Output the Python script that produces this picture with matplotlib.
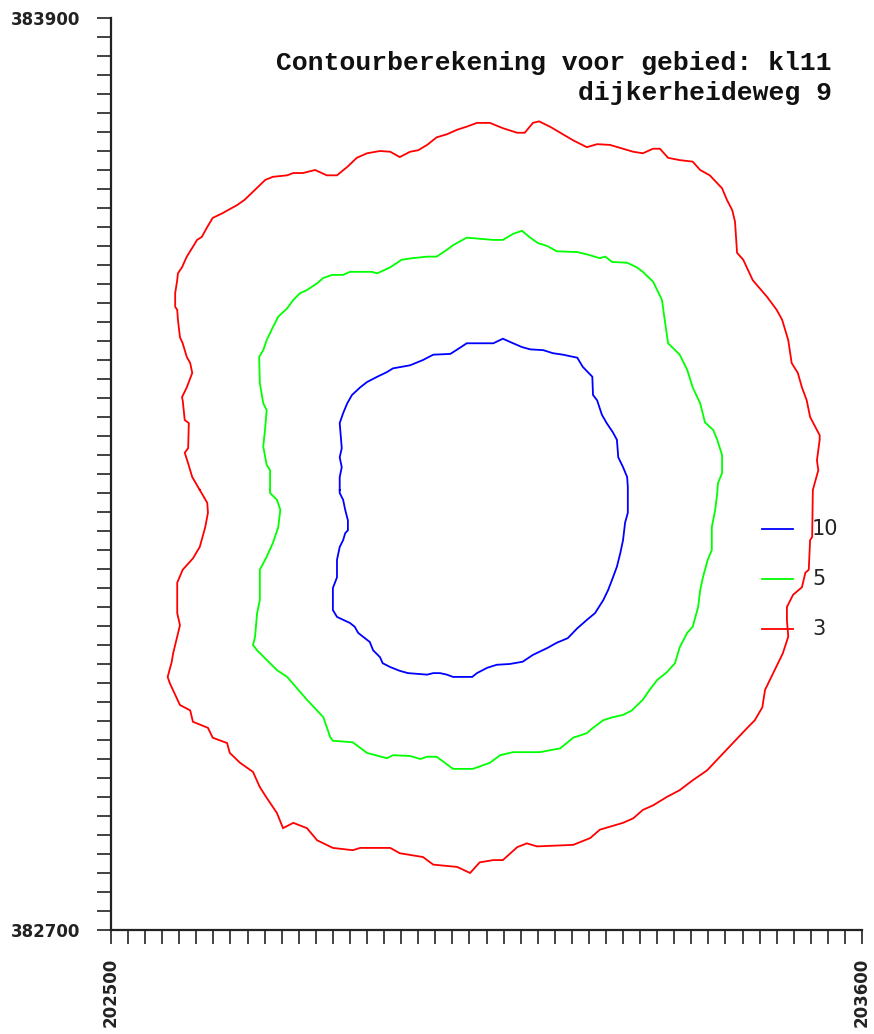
import matplotlib
matplotlib.use('Agg')
import matplotlib.pyplot as plt
import numpy as np

# Contour rings (easting, northing) in metres, one list per level
contour_3 = [
    (202630, 383279), (202619, 383296), (202613, 383314), (202608, 383328), (202613, 383334),
    (202614, 383367), (202608, 383371), (202605, 383397), (202604, 383401), (202611, 383414),
    (202619, 383433), (202616, 383446), (202611, 383454), (202605, 383472), (202601, 383480),
    (202598, 383503), (202597, 383516), (202594, 383520), (202594, 383538), (202597, 383555),
    (202598, 383564), (202604, 383572), (202611, 383586), (202620, 383599), (202626, 383608),
    (202633, 383612), (202641, 383625), (202649, 383637), (202663, 383643), (202671, 383647),
    (202685, 383654), (202696, 383661), (202711, 383674), (202726, 383687), (202737, 383691),
    (202758, 383693), (202767, 383696), (202781, 383696), (202799, 383700), (202816, 383693),
    (202831, 383693), (202846, 383704), (202860, 383716), (202875, 383722), (202894, 383725),
    (202909, 383724), (202923, 383717), (202938, 383724), (202950, 383726), (202963, 383733),
    (202977, 383743), (202992, 383747), (203007, 383753), (203021, 383757), (203036, 383762),
    (203055, 383762), (203074, 383755), (203095, 383749), (203106, 383749), (203118, 383762),
    (203127, 383764), (203143, 383757), (203158, 383749), (203177, 383739), (203197, 383730),
    (203212, 383734), (203231, 383733), (203246, 383729), (203265, 383724), (203279, 383722),
    (203294, 383728), (203304, 383728), (203316, 383716), (203333, 383713), (203352, 383711),
    (203363, 383700), (203377, 383693), (203395, 383676), (203402, 383661), (203410, 383647),
    (203414, 383632), (203417, 383591), (203426, 383582), (203440, 383555), (203461, 383533),
    (203475, 383516), (203483, 383503), (203492, 383476), (203497, 383446), (203506, 383433),
    (203512, 383414), (203519, 383397), (203524, 383375), (203538, 383351), (203538, 383345),
    (203534, 383318), (203536, 383305), (203528, 383279), (203527, 383217), (203524, 383213),
    (203522, 383174), (203517, 383170), (203512, 383151), (203499, 383141), (203490, 383125),
    (203490, 383108), (203492, 383086), (203484, 383064), (203470, 383038), (203458, 383016),
    (203454, 382993), (203443, 382976), (203432, 382966), (203411, 382946), (203392, 382928),
    (203373, 382910), (203352, 382897), (203333, 382884), (203314, 382875), (203294, 382864),
    (203279, 382858), (203265, 382847), (203250, 382841), (203231, 382836), (203216, 382832),
    (203202, 382821), (203177, 382812), (203124, 382810), (203109, 382814), (203095, 382809),
    (203074, 382792), (203060, 382792), (203040, 382789), (203026, 382775), (203007, 382783),
    (202972, 382786), (202957, 382796), (202923, 382801), (202909, 382808), (202865, 382808),
    (202854, 382805), (202825, 382808), (202802, 382818), (202787, 382834), (202767, 382841),
    (202752, 382834), (202743, 382854), (202728, 382874), (202718, 382888), (202708, 382908),
    (202689, 382920), (202674, 382933), (202670, 382946), (202649, 382953), (202642, 382966),
    (202620, 382974), (202616, 382989), (202601, 382996), (202586, 383025), (202583, 383033),
    (202589, 383053), (202591, 383064), (202597, 383086), (202601, 383101), (202597, 383117),
    (202597, 383157), (202605, 383174), (202620, 383189), (202630, 383204), (202638, 383230),
    (202642, 383249), (202641, 383262),
]

contour_5 = [
    (202733, 383279), (202733, 383305), (202728, 383312), (202723, 383336), (202726, 383362),
    (202728, 383384), (202723, 383393), (202718, 383420), (202717, 383454), (202723, 383463),
    (202728, 383476), (202737, 383493), (202745, 383507), (202758, 383518), (202767, 383529),
    (202777, 383538), (202787, 383542), (202802, 383551), (202811, 383558), (202824, 383562),
    (202840, 383562), (202850, 383566), (202882, 383566), (202890, 383564), (202909, 383572),
    (202926, 383582), (202942, 383584), (202963, 383586), (202977, 383586), (202992, 383595),
    (203001, 383601), (203021, 383611), (203060, 383608), (203074, 383608), (203089, 383616),
    (203102, 383620), (203114, 383611), (203125, 383604), (203139, 383600), (203153, 383593),
    (203183, 383592), (203197, 383589), (203216, 383584), (203224, 383586), (203234, 383579),
    (203256, 383578), (203270, 383572), (203279, 383566), (203294, 383553), (203300, 383542),
    (203307, 383529), (203311, 383503), (203316, 383472), (203333, 383457), (203344, 383437),
    (203352, 383414), (203363, 383393), (203370, 383368), (203382, 383358), (203388, 383345),
    (203395, 383325), (203395, 383301), (203389, 383288), (203388, 383275), (203385, 383253),
    (203380, 383230), (203380, 383200), (203374, 383187), (203367, 383164), (203363, 383147),
    (203360, 383125), (203352, 383099), (203344, 383091), (203333, 383072), (203326, 383051),
    (203314, 383039), (203300, 383029), (203289, 383016), (203279, 383003), (203263, 382989),
    (203250, 382983), (203235, 382980), (203221, 382976), (203206, 382966), (203197, 382959),
    (203177, 382953), (203158, 382939), (203128, 382934), (203089, 382934), (203070, 382930),
    (203055, 382920), (203030, 382912), (203001, 382912), (202989, 382920), (202977, 382928),
    (202963, 382928), (202953, 382925), (202938, 382929), (202913, 382930), (202904, 382926),
    (202875, 382933), (202854, 382947), (202825, 382949), (202821, 382954), (202811, 382980),
    (202787, 383003), (202758, 383033), (202743, 383042), (202714, 383068), (202708, 383075),
    (202711, 383086), (202714, 383117), (202718, 383134), (202718, 383174), (202728, 383191),
    (202737, 383209), (202745, 383230), (202748, 383253), (202743, 383266), (202733, 383275),
]

contour_10 = [
    (202835, 383279), (202835, 383296), (202838, 383309), (202835, 383322), (202838, 383334),
    (202835, 383367), (202840, 383380), (202846, 383393), (202853, 383404), (202865, 383414),
    (202875, 383421), (202890, 383428), (202904, 383434), (202913, 383439), (202938, 383443),
    (202957, 383450), (202972, 383457), (202997, 383458), (203011, 383466), (203021, 383472),
    (203060, 383472), (203074, 383478), (203089, 383472), (203102, 383467), (203114, 383464),
    (203133, 383463), (203147, 383459), (203162, 383457), (203183, 383453), (203191, 383441),
    (203205, 383428), (203206, 383404), (203212, 383397), (203219, 383378), (203226, 383367),
    (203235, 383355), (203241, 383345), (203243, 383322), (203250, 383309), (203256, 383296),
    (203257, 383283), (203257, 383249), (203253, 383236), (203250, 383213), (203246, 383196),
    (203241, 383178), (203234, 383161), (203228, 383147), (203221, 383134), (203209, 383117),
    (203197, 383108), (203183, 383097), (203169, 383084), (203153, 383078), (203139, 383071),
    (203118, 383062), (203103, 383053), (203084, 383050), (203065, 383049), (203051, 383045),
    (203036, 383038), (203029, 383033), (203001, 383033), (202992, 383036), (202982, 383038),
    (202972, 383038), (202963, 383036), (202935, 383038), (202923, 383041), (202909, 383046),
    (202898, 383051), (202894, 383059), (202884, 383068), (202879, 383079), (202869, 383086),
    (202862, 383091), (202857, 383099), (202850, 383104), (202838, 383109), (202831, 383112),
    (202825, 383121), (202825, 383150), (202831, 383164), (202831, 383187), (202835, 383204),
    (202840, 383213), (202843, 383222), (202847, 383226), (202847, 383239), (202843, 383253),
    (202840, 383266), (202835, 383275),
]

levels = [10, 5, 3]
level_colors = ['#0000FF', '#00FF00', '#FF0000']
rings = [contour_10, contour_5, contour_3]

x_min, x_max = 202500, 203600
y_min, y_max = 382700, 383900
tick_step = 25

title_lines = ['Contourberekening voor gebied: kl11', 'dijkerheideweg 9']

fig = plt.figure(figsize=(8.74, 10.34), dpi=100, facecolor='white')
ax = fig.add_axes([111 / 874, 104 / 1034, 751 / 874, 912 / 1034])

# contour lines, each ring closed on itself
for ring, col in zip(rings, level_colors):
    pts = np.array(ring + [ring[0]])
    ax.plot(pts[:, 0], pts[:, 1], color=col, lw=1.3, solid_joinstyle='miter')

ax.set_xlim(x_min, x_max)
ax.set_ylim(y_min, y_max)

# axis frame: only left and bottom, ticks every 25 m, labels only at the ends
for side in ['top', 'right']:
    ax.spines[side].set_visible(False)
for side in ['left', 'bottom']:
    ax.spines[side].set_linewidth(1.6)
    ax.spines[side].set_color('#222222')

xt = np.arange(x_min, x_max + 1, tick_step)
yt = np.arange(y_min, y_max + 1, tick_step)
ax.set_xticks(xt)
ax.set_yticks(yt)
ax.set_xticklabels([str(v) if v in (x_min, x_max) else '' for v in xt],
                   rotation=90, fontsize=12, fontweight='bold', color='#222222')
ax.set_yticklabels([str(v) if v in (y_min, y_max) else '' for v in yt],
                   fontsize=12, fontweight='bold', color='#222222')
ax.tick_params(axis='x', direction='out', length=10, width=1.2, color='#222222', pad=10)
ax.tick_params(axis='y', direction='out', length=10, width=1.2, color='#222222', pad=12)

# title block, top right
ax.text(0.960, 0.951, title_lines[0], transform=ax.transAxes, ha='right', va='center',
        fontsize=19, family='Liberation Mono', fontweight='bold', color='#111111')
ax.text(0.960, 0.918, title_lines[1], transform=ax.transAxes, ha='right', va='center',
        fontsize=19, family='Liberation Mono', fontweight='bold', color='#111111')

# legend: short line segment plus level label
legend_rows = [0.4397, 0.3849, 0.3300]
for lev, col, yy in zip(levels, level_colors, legend_rows):
    ax.plot([0.8668, 0.9081], [yy, yy], color=col, lw=1.3, transform=ax.transAxes)
    ax.text(0.9334, yy, str(lev), transform=ax.transAxes, ha='left', va='center',
            fontsize=15, color='#222222')

plt.savefig('out.png', dpi=100, facecolor='white')
plt.close()
